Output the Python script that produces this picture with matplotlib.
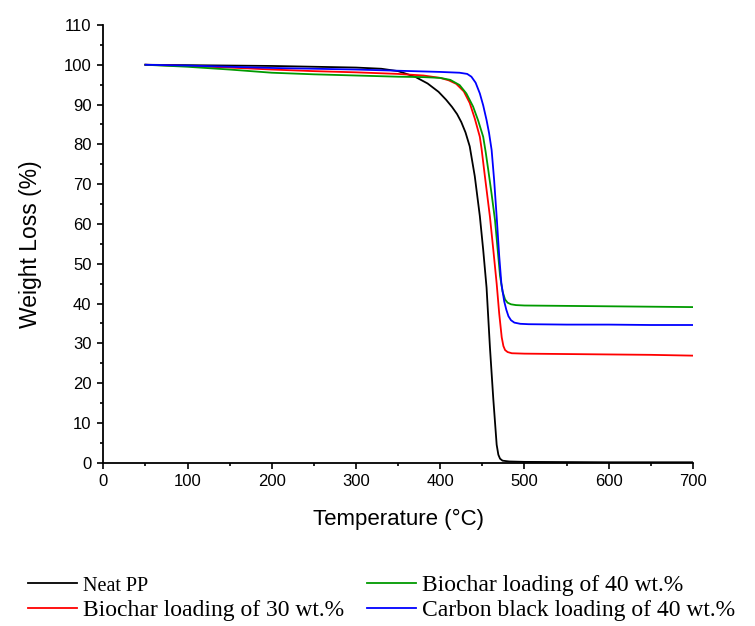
import matplotlib.pyplot as plt
from matplotlib.ticker import MultipleLocator

plt.rcParams['font.family'] = ['Liberation Sans', 'DejaVu Sans']

# Neat PP
t_pp = [50, 100, 150, 200, 250, 300, 330, 350, 370, 385, 398, 407, 414, 420, 425, 430, 435,
        441, 447, 451, 455, 459, 463, 467, 469, 471, 474, 482, 500, 550, 600, 650, 700]
w_pp = [100, 99.9, 99.8, 99.7, 99.5, 99.3, 99.0, 98.4, 97.0, 95.3, 93.2, 91.2, 89.4, 87.6, 85.6, 83.0, 79.5,
        72.0, 62.0, 53.5, 44.0, 29.0, 16.0, 4.5, 2.0, 1.0, 0.5, 0.3, 0.2, 0.15, 0.1, 0.1, 0.1]

# Biochar 30 wt.%
t_bc30 = [50, 100, 150, 200, 250, 300, 350, 380, 400, 410, 419, 428, 435, 441, 447, 449,
          453, 459, 463, 467, 470, 473, 475, 477, 480, 485, 500, 550, 600, 650, 700]
w_bc30 = [100, 99.7, 99.3, 98.8, 98.4, 98.1, 97.7, 97.3, 96.7, 96.1, 95.2, 93.3, 90.4, 86.5, 81.9, 79.0,
          72.0, 61.8, 53.5, 45.0, 37.5, 31.5, 29.3, 28.3, 27.8, 27.5, 27.4, 27.3, 27.2, 27.1, 26.9]

# Biochar 40 wt.%
t_bc40 = [50, 100, 150, 200, 250, 300, 350, 380, 400, 412, 423, 431, 439, 445, 451, 454,
          457, 461, 465, 468, 471, 474, 477, 480, 484, 490, 500, 550, 600, 650, 700]
w_bc40 = [100, 99.5, 98.8, 98.0, 97.6, 97.3, 97.0, 96.9, 96.7, 96.2, 94.9, 92.8, 89.5, 86.0, 81.9, 78.0,
          73.6, 67.5, 61.0, 54.0, 47.0, 43.0, 41.0, 40.2, 39.8, 39.6, 39.5, 39.4, 39.3, 39.2, 39.1]

# Carbon black 40 wt.%
t_cb40 = [50, 100, 150, 200, 250, 300, 350, 400, 423, 432, 437, 442, 447, 451, 455, 458,
          461, 464, 467, 470, 472.6, 476, 478.5, 481, 484, 488, 495, 505, 550, 600, 650, 700]
w_cb40 = [100, 99.8, 99.5, 99.2, 99.0, 98.8, 98.5, 98.2, 98.0, 97.7, 97.0, 95.5, 92.8, 89.8, 86.1, 82.8,
          78.6, 71.0, 61.8, 52.0, 45.0, 40.5, 38.4, 36.8, 35.8, 35.2, 34.9, 34.8, 34.7, 34.7, 34.6, 34.6]

labels = ['Neat PP', 'Biochar loading of 30 wt.%',
          'Biochar loading of 40 wt.%', 'Carbon black loading of 40 wt.%']
colors = ['black', '#ff0000', '#009a00', '#0000ff']

fig = plt.figure(figsize=(7.55, 6.26), dpi=100)
ax = fig.add_axes([0.1368, 0.2609, 0.781, 0.6992])

series = [(t_pp, w_pp), (t_bc30, w_bc30), (t_bc40, w_bc40), (t_cb40, w_cb40)]
handles = []
for (t, w), c, lab in zip(series, colors, labels):
    h, = ax.plot(t, w, color=c, lw=1.3, label=lab)
    handles.append(h)

ax.set_xlim(0, 700)
ax.set_ylim(0, 110)
ax.xaxis.set_major_locator(MultipleLocator(100))
ax.xaxis.set_minor_locator(MultipleLocator(50))
ax.yaxis.set_major_locator(MultipleLocator(10))
ax.yaxis.set_minor_locator(MultipleLocator(5))
ax.tick_params(which='major', direction='out', length=4.5, width=1.2, labelsize=12, pad=4)
ax.tick_params(which='minor', direction='out', length=2.5, width=1.2)
for s in ['top', 'right']:
    ax.spines[s].set_visible(False)
for s in ['left', 'bottom']:
    ax.spines[s].set_linewidth(1.3)

ax.set_xlabel('Temperature (°C)', fontsize=16, labelpad=14)
ax.set_ylabel('Weight Loss (%)', fontsize=16.5, labelpad=16)

# legend below the plot, two columns
leg = fig.legend(handles, labels, ncol=2,
                 loc='upper left', bbox_to_anchor=(0.037, 0.082), frameon=False,
                 prop={'family': 'Liberation Serif', 'size': 17},
                 handlelength=2.07, handletextpad=0.25, columnspacing=0.97,
                 labelspacing=0.15, borderaxespad=0, borderpad=0)
leg.get_texts()[0].set_fontsize(14.5)

fig.savefig('out.png', dpi=100)
